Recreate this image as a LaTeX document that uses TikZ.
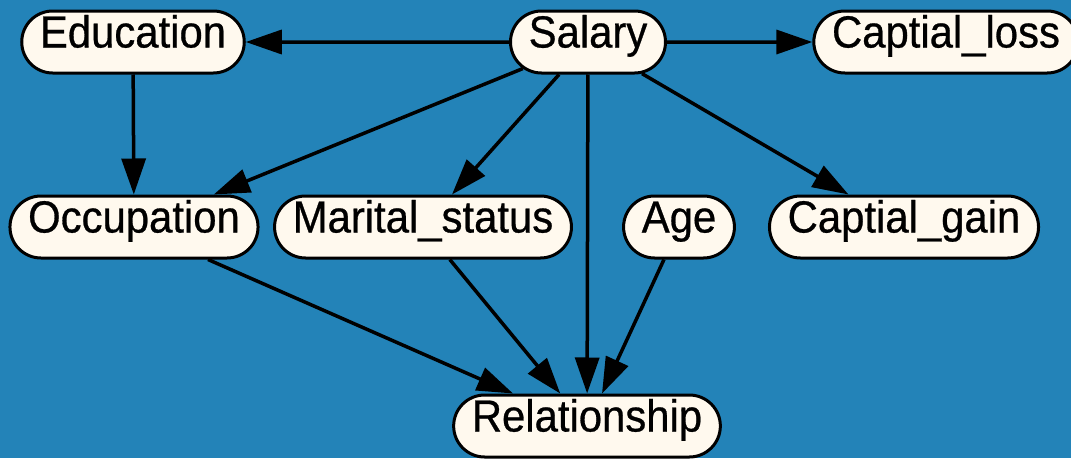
\documentclass[tikz,border=0pt]{standalone}
\usepackage{fontspec}
\setmainfont{Liberation Sans}[FakeStretch=0.93,FakeBold=0.6]
\usepackage{tikz}
\usetikzlibrary{shapes,arrows.meta}
\definecolor{bgblue}{HTML}{2383B8}
\definecolor{nodefill}{HTML}{FFF9EE}

\begin{document}
\begin{tikzpicture}[x=1pt,y=-1pt,
    var/.style={rounded rectangle, draw=black, line width=3pt, fill=nodefill,
      minimum height=62pt, inner xsep=1.5pt, inner ysep=0pt,
      text height=33pt, text depth=22pt,
      font=\fontsize{45}{45}\selectfont},
    link/.style={->, line width=3.5pt},
    >={Triangle[length=36pt,width=24pt]}]
     \fill [bgblue] (0,0) rectangle (1071,458);
     \useasboundingbox (0,0) rectangle (1071,458);
     \node [var] (education) at (133,42) {Education};
     \node [var] (salary) at (588,42) {Salary};
     \node [var] (loss) at (946,42) {Captial\_loss};
     \node [var] (occupation) at (134,227) {Occupation};
     \node [var] (marital) at (423,227) {Marital\_status};
     \node [var] (age) at (679,227) {Age};
     \node [var] (gain) at (904,227) {Captial\_gain};
     \node [var] (relationship) at (587,426) {Relationship};
     \draw [link] (salary) -- (education);
     \draw [link] (salary) -- (loss);
     \draw [link] (education) -- (occupation);
     \draw [link] (salary) -- (occupation);
     \draw [link] (salary) -- (marital);
     \draw [link] (salary) -- (relationship);
     \draw [link] (salary) -- (gain);
     \draw [link] (occupation) -- (relationship);
     \draw [link] (marital) -- (relationship);
     \draw [link] (age) -- (relationship);
 \end{tikzpicture}
\end{document}
